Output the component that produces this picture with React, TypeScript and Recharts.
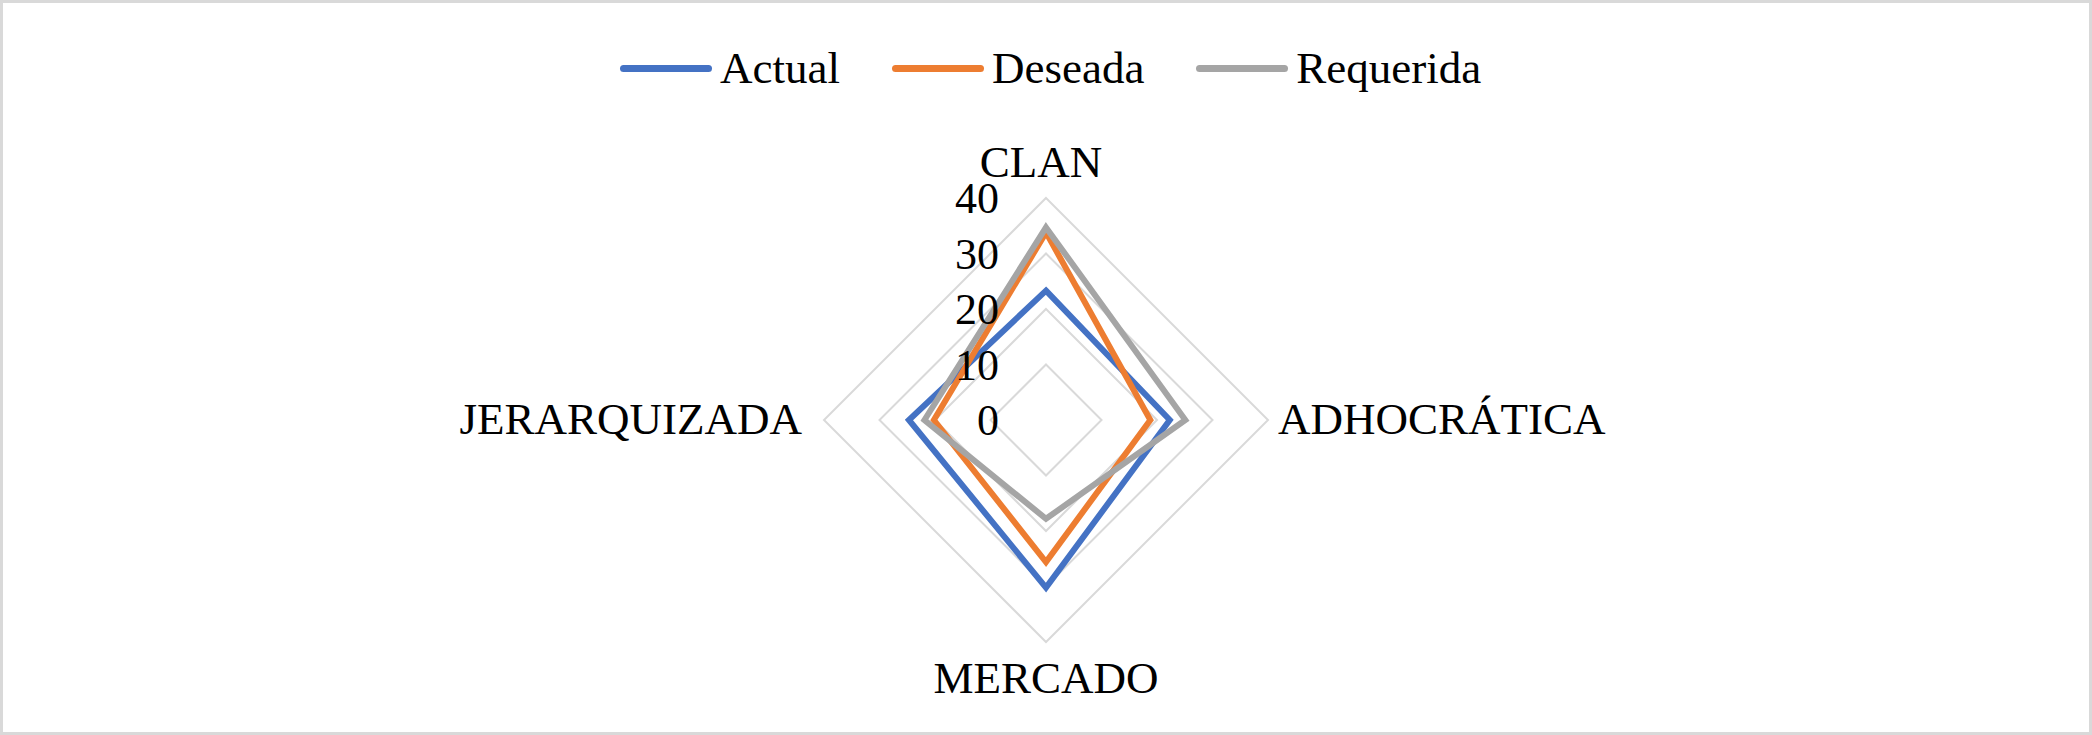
import { Legend, PolarAngleAxis, PolarGrid, PolarRadiusAxis, Radar, RadarChart } from "recharts";

const CATEGORIES = ["CLAN", "ADHOCRÁTICA", "MERCADO", "JERARQUIZADA"];
const ACTUAL = [23.3, 22.3, 30.2, 24.7];
const DESEADA = [33.8, 18.8, 25.6, 20.2];
const REQUERIDA = [34.7, 25.1, 17.8, 21.9];
const RADIUS_DOMAIN = [0, 40];

const SERIES = [
  { name: "Actual", values: ACTUAL, color: "#4472C4" },
  { name: "Deseada", values: DESEADA, color: "#ED7D31" },
  { name: "Requerida", values: REQUERIDA, color: "#A5A5A5" },
];

const data = CATEGORIES.map((cat, i) => {
  const row: Record<string, string | number> = { axis: cat };
  SERIES.forEach(s => { row[s.name] = s.values[i]; });
  return row;
});

const W = 2092;
const H = 735;
const CX = 1046;
const CY = 420;
const FONT = "'Liberation Serif', 'Times New Roman', serif";

function AngleTick(props: any) {
  const { x, y, payload, textAnchor } = props;
  let dx = 0;
  let dy = 14;
  if (textAnchor === "middle") {
    // top label sits a little left of the axis in the original
    dx = y < CY ? -5 : 0;
    dy = y < CY ? -13 : 43;
  } else {
    dx = textAnchor === "start" ? 2 : -14;
  }
  return (
    <text x={x + dx} y={y + dy} textAnchor={textAnchor} fontFamily={FONT} fontSize={45} fill="#000">
      {payload.value}
    </text>
  );
}

function RadiusTick(props: any) {
  const { x, y, payload } = props;
  return (
    <text x={x - 47} y={y + 15} textAnchor="end" fontFamily={FONT} fontSize={44} fill="#000">
      {payload.value}
    </text>
  );
}

function LegendContent(props: any) {
  const items = props.payload || [];
  return (
    <div style={{ display: "flex", alignItems: "center", height: 50 }}>
      {items.map((e: any, i: number) => (
        <div key={e.value} style={{ display: "flex", alignItems: "center", marginRight: i < items.length - 1 ? 52 : 0 }}>
          <div style={{ width: 92, height: 7, borderRadius: 4, background: e.color }} />
          <span style={{ marginLeft: 8, fontFamily: FONT, fontSize: 45, lineHeight: "50px", color: "#000" }}>{e.value}</span>
        </div>
      ))}
    </div>
  );
}

export default function App() {
  return (
    <div style={{ position: "relative", width: W, height: H, background: "#fff" }}>
      <style>{"body{margin:0}"}</style>
      <RadarChart width={W} height={H} data={data} cx={CX} cy={CY} outerRadius={222}
                  margin={{ top: 0, right: 0, bottom: 0, left: 0 }}>
        <PolarGrid gridType="polygon" radialLines={false} stroke="#d9d9d9" strokeWidth={2} />
        <PolarAngleAxis dataKey="axis" tick={(p: any) => <AngleTick {...p} />} tickLine={false} axisLine={false} />
        <PolarRadiusAxis angle={90} domain={RADIUS_DOMAIN} tickCount={5} type="number"
                         axisLine={false} tick={(p: any) => <RadiusTick {...p} />} />
        {SERIES.map(s => (
          <Radar key={s.name} name={s.name} dataKey={s.name} stroke={s.color} strokeWidth={6}
                 fill="none" fillOpacity={0} dot={false} isAnimationActive={false} />
        ))}
        <Legend verticalAlign="top" content={(p: any) => <LegendContent {...p} />}
                wrapperStyle={{ top: 43, left: 620, width: "auto" }} />
      </RadarChart>
      <div style={{ position: "absolute", inset: 0, border: "3px solid #d9d9d9", boxSizing: "border-box", pointerEvents: "none" }} />
    </div>
  );
}
